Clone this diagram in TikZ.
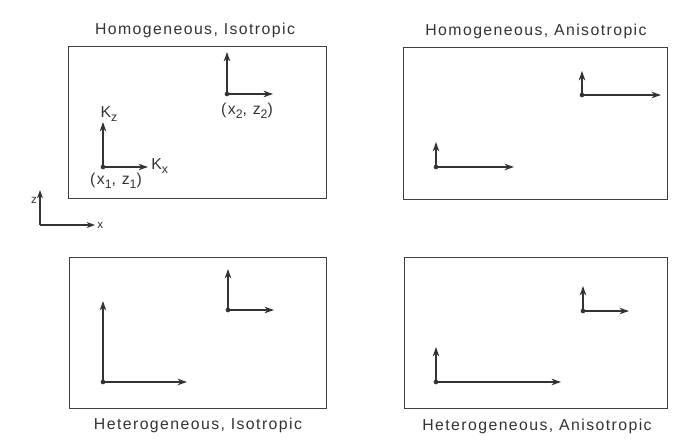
\documentclass[tikz,border=0pt]{standalone}
\usepackage{fontspec}
\setmainfont[LetterSpace=9]{Liberation Sans}
\usetikzlibrary{arrows.meta}
\newcommand{\lowsub}[1]{\raisebox{-0.5ex}{\fontsize{10.5}{12}\selectfont #1}}

\begin{document}
\begin{tikzpicture}[x=0.03cm,y=-0.03cm,
    panel/.style={draw=black!75,line width=0.8pt},
    vec/.style={draw=black!80,line width=1.3pt,-{Stealth[length=8pt,width=5.5pt,inset=2.5pt]}},
    thin vec/.style={draw=black!80,line width=1pt,-{Stealth[length=7pt,width=5pt,inset=2pt]}},
    pt/.style={circle,fill=black!80,inner sep=0pt,minimum size=4pt},
    title/.style={font=\fontsize{13.5}{15}\selectfont,text=black!80},
    lbl/.style={font=\fontsize{13.5}{15}\selectfont,text=black!80,inner sep=1pt}]
  \useasboundingbox (0,0) rectangle (686,440);
  \fill[white] (0,0) rectangle (686,440);

  % panels
  \draw[panel] (68,46) rectangle (326,198);
  \draw[panel] (403,47) rectangle (667,199);
  \draw[panel] (69,257) rectangle (326,408);
  \draw[panel] (404,257) rectangle (667,408);

  \node[title] (tHI) at (195,30) {Homogeneous, Isotropic};
  \node[title] (tHA) at (536,31) {Homogeneous, Anisotropic};
  \node[title] (tEI) at (198,425) {Heterogeneous, Isotropic};
  \node[title] (tEA) at (537,426) {Heterogeneous, Anisotropic};

  % homogeneous, isotropic
  \coordinate (a1) at (103,167);
  \coordinate (a1z) at (103,122);
  \coordinate (a1x) at (148,167);
  \draw[vec] (a1) -- (a1z);
  \draw[vec] (a1) -- (a1x);
  \node[pt] at (a1) {};
  \node[lbl] (kz) at (109,114) {K\lowsub{z}};
  \node[lbl,anchor=west] (kx) at (150,166) {K\lowsub{x}};
  \node[lbl] (a1lbl) at (116,181) {(x\lowsub{1}, z\lowsub{1})};
  \coordinate (a2) at (227,94);
  \coordinate (a2z) at (227,52);
  \coordinate (a2x) at (273,94);
  \draw[vec] (a2) -- (a2z);
  \draw[vec] (a2) -- (a2x);
  \node[pt] at (a2) {};
  \node[lbl] (a2lbl) at (247,111) {(x\lowsub{2}, z\lowsub{2})};

  % homogeneous, anisotropic
  \coordinate (b1) at (436,167);
  \coordinate (b1z) at (436,142);
  \coordinate (b1x) at (514,167);
  \draw[vec] (b1) -- (b1z);
  \draw[vec] (b1) -- (b1x);
  \node[pt] at (b1) {};
  \coordinate (b2) at (582,95);
  \coordinate (b2z) at (582,71);
  \coordinate (b2x) at (661,95);
  \draw[vec] (b2) -- (b2z);
  \draw[vec] (b2) -- (b2x);
  \node[pt] at (b2) {};

  % heterogeneous, isotropic
  \coordinate (c1) at (103,382);
  \coordinate (c1z) at (103,301);
  \coordinate (c1x) at (187,382);
  \draw[vec] (c1) -- (c1z);
  \draw[vec] (c1) -- (c1x);
  \node[pt] at (c1) {};
  \coordinate (c2) at (228,310);
  \coordinate (c2z) at (228,269);
  \coordinate (c2x) at (274,310);
  \draw[vec] (c2) -- (c2z);
  \draw[vec] (c2) -- (c2x);
  \node[pt] at (c2) {};

  % heterogeneous, anisotropic
  \coordinate (d1) at (436,382);
  \coordinate (d1z) at (436,347);
  \coordinate (d1x) at (561,382);
  \draw[vec] (d1) -- (d1z);
  \draw[vec] (d1) -- (d1x);
  \node[pt] at (d1) {};
  \coordinate (d2) at (583,311);
  \coordinate (d2z) at (583,286);
  \coordinate (d2x) at (629,311);
  \draw[vec] (d2) -- (d2z);
  \draw[vec] (d2) -- (d2x);
  \node[pt] at (d2) {};

  % reference axes
  \coordinate (o) at (40,225);
  \coordinate (oz) at (40,190);
  \coordinate (ox) at (95,225);
  \draw[thin vec] (o) -- (oz);
  \draw[thin vec] (o) -- (ox);
  \node[lbl,font=\fontsize{10}{12}\selectfont] (zlbl) at (34,200) {z};
  \node[lbl,font=\fontsize{10}{12}\selectfont,anchor=west] (xlbl) at (96,225) {x};
\end{tikzpicture}
\end{document}
